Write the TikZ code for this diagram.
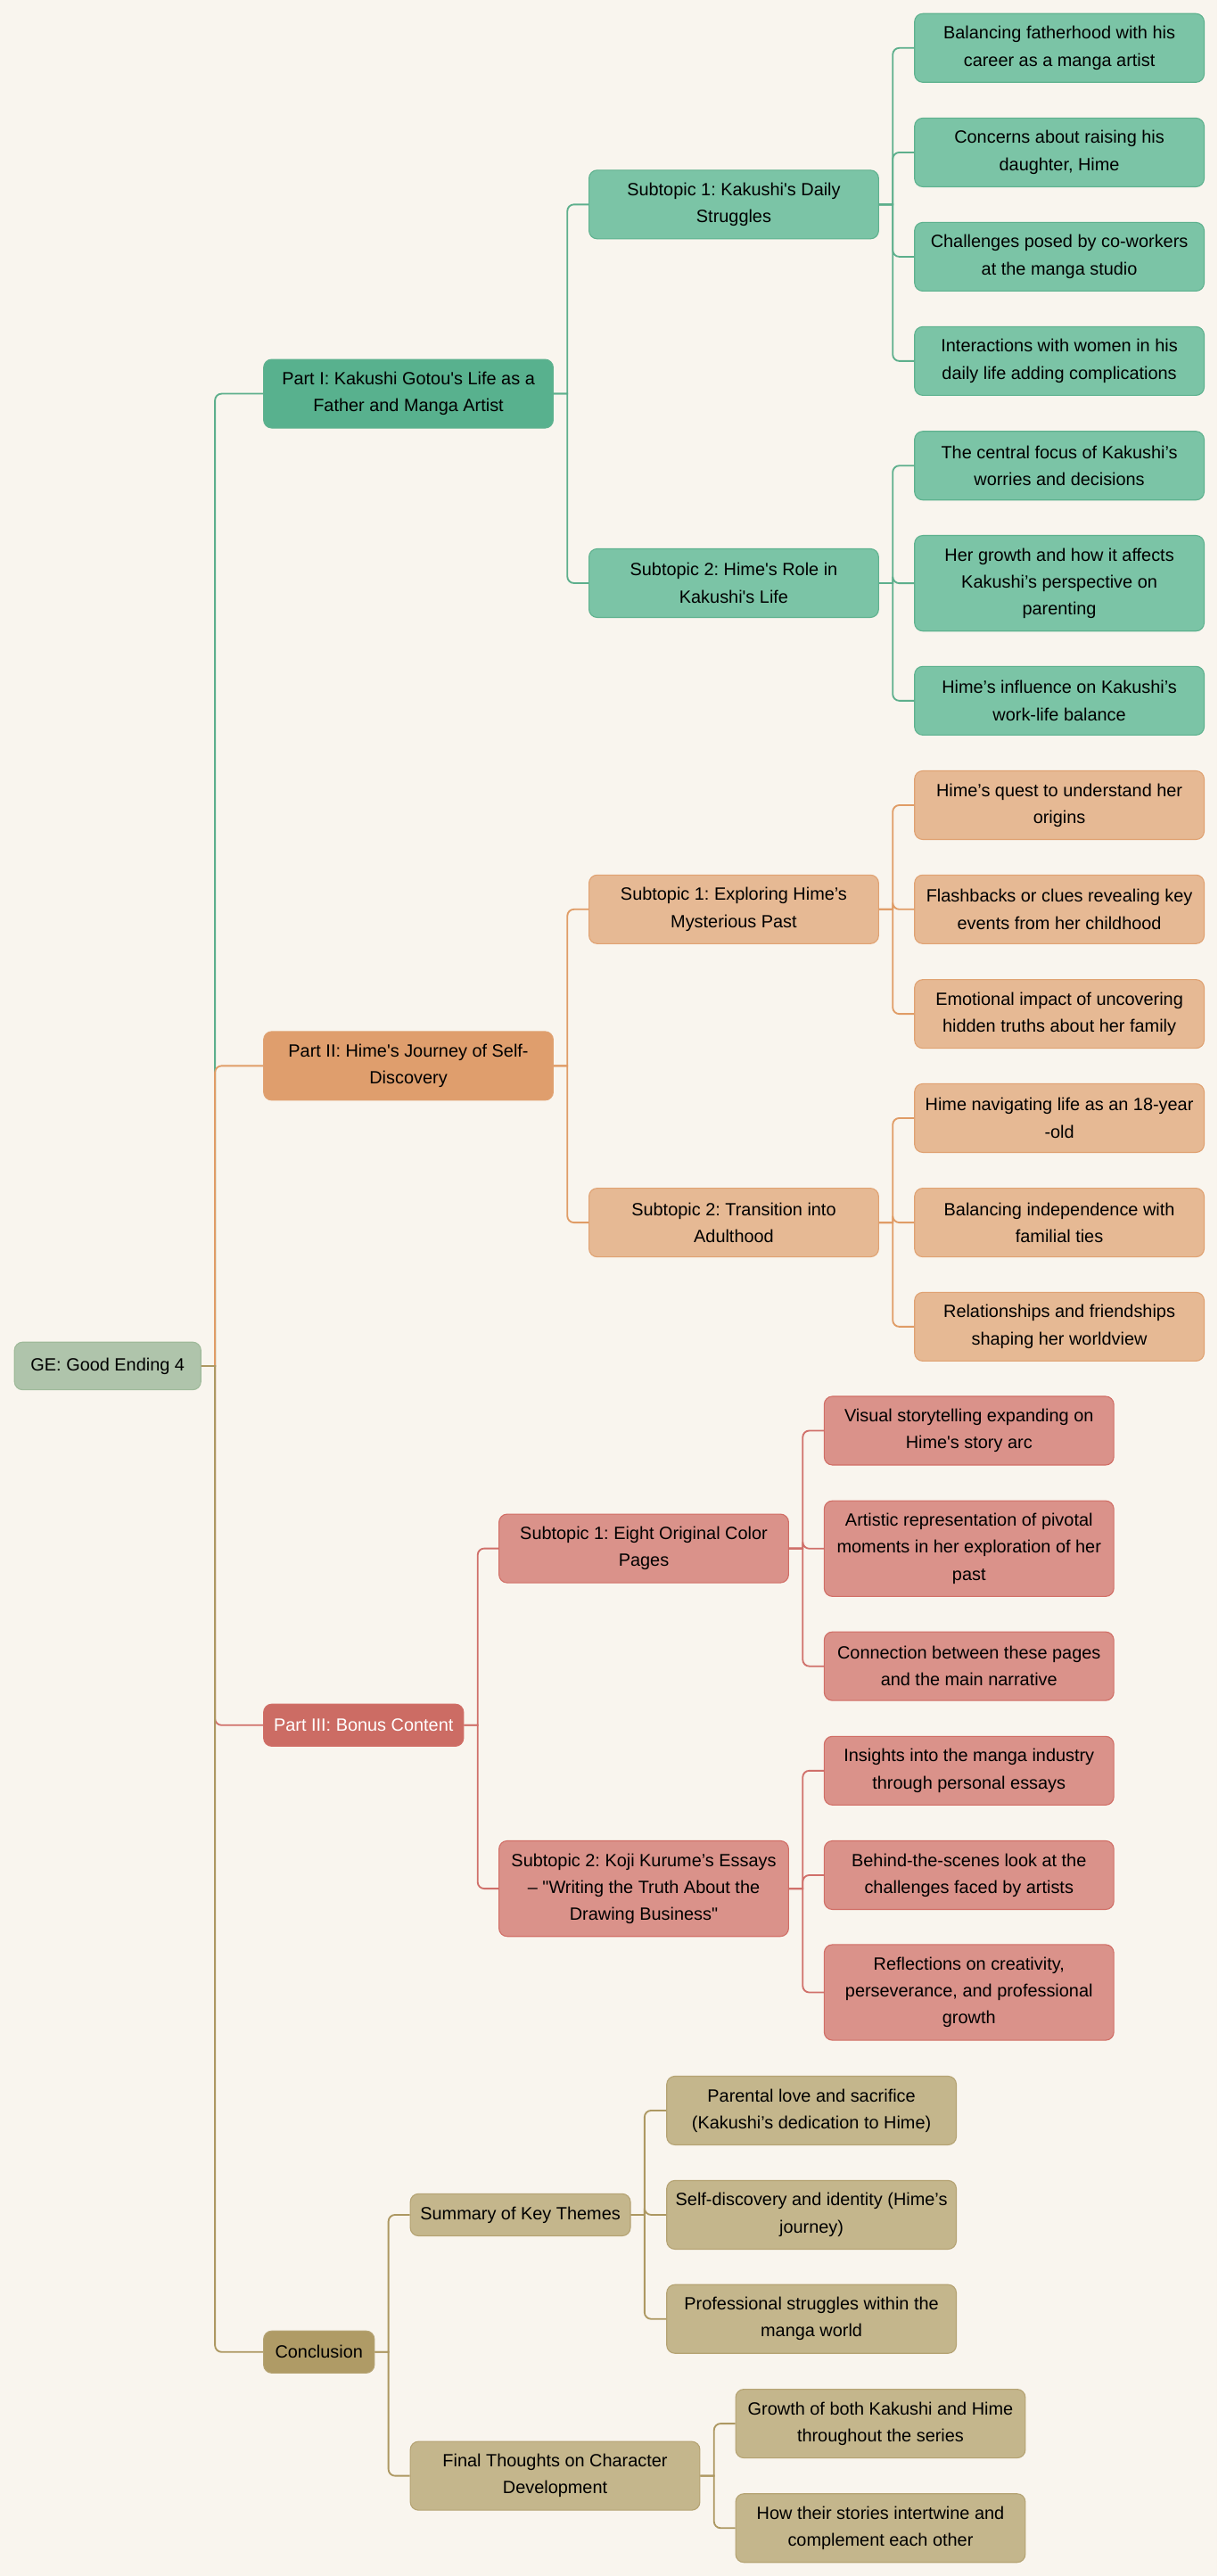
\documentclass[tikz,border=0pt]{standalone}
\usepackage{fontspec}
\setmainfont{Liberation Sans}
\tikzset{>=stealth}
\frenchspacing

\definecolor{paper}{HTML}{F9F5EE}
\definecolor{rootfill}{HTML}{AFC4AB}
\definecolor{rootrim}{HTML}{9FBA9A}
\definecolor{greentop}{HTML}{58B18E}
\definecolor{greenbox}{HTML}{7BC4A6}
\definecolor{greenrim}{HTML}{5FB28F}
\definecolor{greenline}{HTML}{5DAF8C}
\definecolor{orangetop}{HTML}{DF9E6D}
\definecolor{orangebox}{HTML}{E6B994}
\definecolor{orangerim}{HTML}{E0A272}
\definecolor{orangeline}{HTML}{E09C66}
\definecolor{redtop}{HTML}{CC6C64}
\definecolor{redbox}{HTML}{DA928A}
\definecolor{redrim}{HTML}{D16E66}
\definecolor{redline}{HTML}{D0706A}
\definecolor{khakitop}{HTML}{AF9B66}
\definecolor{khakibox}{HTML}{C4B68C}
\definecolor{khakirim}{HTML}{B5A373}
\definecolor{khakiline}{HTML}{AD9862}

\newcommand{\apos}{\textquotesingle}
\newcommand{\dquo}{\textquotedbl}

\tikzset{
  box/.style={draw, rounded corners=5pt, align=center, inner sep=0pt, anchor=west,
    line width=0.6pt, font=\fontsize{10.8}{16.4}\selectfont},
  one/.style={minimum height=25.6pt},
  two/.style={minimum height=41.8pt},
  three/.style={minimum height=58.2pt},
  wide/.style={minimum width=176.3pt},
  rootbox/.style={box, fill=rootfill, draw=rootrim, minimum width=113.5pt, minimum height=29pt},
  greenpart/.style={box, wide, fill=greentop, draw=greenrim},
  greenleaf/.style={box, wide, fill=greenbox, draw=greenrim},
  orangepart/.style={box, wide, fill=orangetop, draw=orangerim},
  orangeleaf/.style={box, wide, fill=orangebox, draw=orangerim},
  redpart/.style={box, fill=redtop, draw=redrim, text=white},
  redleaf/.style={box, wide, fill=redbox, draw=redrim},
  khakipart/.style={box, fill=khakitop, draw=khakirim},
  khakileaf/.style={box, fill=khakibox, draw=khakirim},
  link/.style={line width=1pt}
}

\begin{document}
\begin{tikzpicture}[x=1pt, y=-1pt]
	\fill[paper] (0,0) rectangle (741,1568.3);
	% root and parts
	\node[rootbox] (ge) at (8.5,831.6) {GE: Good Ending 4};
	\node[greenpart, two] (p1) at (160.2,239.7) {Part I: Kakushi Gotou\apos s Life as a\\Father and Manga Artist};
	\node[orangepart, two] (p2) at (160.2,648.9) {Part II: Hime\apos s Journey of Self-\\Discovery};
	\node[redpart, one, minimum width=121.7pt] (p3) at (160.2,1050.3) {Part III: Bonus Content};
	\node[khakipart, one, minimum width=67.4pt] (p4) at (160.2,1431.9) {Conclusion};
	% part I
	\node[greenleaf, two] (s11) at (358.3,124.5) {Subtopic 1: Kakushi\apos s Daily\\Struggles};
	\node[greenleaf, two] (s12) at (358.3,355) {Subtopic 2: Hime\apos s Role in\\Kakushi\apos s Life};
	\node[greenleaf, two] (a1) at (556.5,29.2) {Balancing fatherhood with his\\career as a manga artist};
	\node[greenleaf, two] (a2) at (556.5,92.8) {Concerns about raising his\\daughter, Hime};
	\node[greenleaf, two] (a3) at (556.5,156.3) {Challenges posed by co-workers\\at the manga studio};
	\node[greenleaf, two] (a4) at (556.5,219.8) {Interactions with women in his\\daily life adding complications};
	\node[greenleaf, two] (a5) at (556.5,283.5) {The central focus of Kakushi’s\\worries and decisions};
	\node[greenleaf, three] (a6) at (556.5,355.1) {Her growth and how it affects\\Kakushi’s perspective on\\parenting};
	\node[greenleaf, two] (a7) at (556.5,426.6) {Hime’s influence on Kakushi’s\\work-life balance};
	% part II
	\node[orangeleaf, two] (s21) at (358.3,553.6) {Subtopic 1: Exploring Hime’s\\Mysterious Past};
	\node[orangeleaf, two] (s22) at (358.3,744.3) {Subtopic 2: Transition into\\Adulthood};
	\node[orangeleaf, two] (b1) at (556.5,490.2) {Hime’s quest to understand her\\origins};
	\node[orangeleaf, two] (b2) at (556.5,553.6) {Flashbacks or clues revealing key\\events from her childhood};
	\node[orangeleaf, two] (b3) at (556.5,617.3) {Emotional impact of uncovering\\hidden truths about her family};
	\node[orangeleaf, two] (b4) at (556.5,680.7) {Hime navigating life as an 18-year\\-old};
	\node[orangeleaf, two] (b5) at (556.5,744.3) {Balancing independence with\\familial ties};
	\node[orangeleaf, two] (b6) at (556.5,807.7) {Relationships and friendships\\shaping her worldview};
	% part III
	\node[redleaf, two] (s31) at (303.5,942.7) {Subtopic 1: Eight Original Color\\Pages};
	\node[redleaf, three] (s32) at (303.5,1149.8) {Subtopic 2: Koji Kurume’s Essays\\– \dquo Writing the Truth About the\\Drawing Business\dquo};
	\node[redleaf, two] (c1) at (501.5,871) {Visual storytelling expanding on\\Hime\apos s story arc};
	\node[redleaf, three] (c2) at (501.5,942.8) {Artistic representation of pivotal\\moments in her exploration of her\\past};
	\node[redleaf, two] (c3) at (501.5,1014.4) {Connection between these pages\\and the main narrative};
	\node[redleaf, two] (c4) at (501.5,1078) {Insights into the manga industry\\through personal essays};
	\node[redleaf, two] (c5) at (501.5,1141.6) {Behind-the-scenes look at the\\challenges faced by artists};
	\node[redleaf, three] (c6) at (501.5,1213) {Reflections on creativity,\\perseverance, and professional\\growth};
	% conclusion
	\node[khakileaf, one, minimum width=134pt] (s41) at (249.5,1348.4) {Summary of Key Themes};
	\node[khakileaf, two, wide] (s42) at (249.5,1507.3) {Final Thoughts on Character\\Development};
	\node[khakileaf, two, wide] (d1) at (405.6,1284.9) {Parental love and sacrifice\\(Kakushi’s dedication to Hime)};
	\node[khakileaf, two, wide] (d2) at (405.6,1348.4) {Self-discovery and identity (Hime’s\\journey)};
	\node[khakileaf, two, wide] (d3) at (405.6,1411.8) {Professional struggles within the\\manga world};
	\node[khakileaf, two, wide] (d4) at (447.6,1475.5) {Growth of both Kakushi and Hime\\throughout the series};
	\node[khakileaf, two, wide] (d5) at (447.6,1539.1) {How their stories intertwine and\\complement each other};
	% connectors
	\draw[link, greenline] (ge.east) -- ++(8.3,0) [rounded corners=4pt] |- (p1.west);
	\draw[link, orangeline] (ge.east) -- ++(8.3,0) [rounded corners=4pt] |- (p2.west);
	\draw[link, redline] (ge.east) -- ++(8.3,0) [rounded corners=4pt] |- (p3.west);
	\draw[link, khakiline] (ge.east) -- ++(8.3,0) [rounded corners=4pt] |- (p4.west);
	\foreach \c in {s11,s12}
	\draw[link, greenline] (p1.east) -- ++(8.3,0) [rounded corners=4pt] |- (\c.west);
	\foreach \c in {a1,a2,a3,a4}
	\draw[link, greenline] (s11.east) -- ++(8.3,0) [rounded corners=4pt] |- (\c.west);
	\foreach \c in {a5,a6,a7}
	\draw[link, greenline] (s12.east) -- ++(8.3,0) [rounded corners=4pt] |- (\c.west);
	\foreach \c in {s21,s22}
	\draw[link, orangeline] (p2.east) -- ++(8.3,0) [rounded corners=4pt] |- (\c.west);
	\foreach \c in {b1,b2,b3}
	\draw[link, orangeline] (s21.east) -- ++(8.3,0) [rounded corners=4pt] |- (\c.west);
	\foreach \c in {b4,b5,b6}
	\draw[link, orangeline] (s22.east) -- ++(8.3,0) [rounded corners=4pt] |- (\c.west);
	\foreach \c in {s31,s32}
	\draw[link, redline] (p3.east) -- ++(8.3,0) [rounded corners=4pt] |- (\c.west);
	\foreach \c in {c1,c2,c3}
	\draw[link, redline] (s31.east) -- ++(8.3,0) [rounded corners=4pt] |- (\c.west);
	\foreach \c in {c4,c5,c6}
	\draw[link, redline] (s32.east) -- ++(8.3,0) [rounded corners=4pt] |- (\c.west);
	\foreach \c in {s41,s42}
	\draw[link, khakiline] (p4.east) -- ++(8.3,0) [rounded corners=4pt] |- (\c.west);
	\foreach \c in {d1,d2,d3}
	\draw[link, khakiline] (s41.east) -- ++(8.3,0) [rounded corners=4pt] |- (\c.west);
	\foreach \c in {d4,d5}
	\draw[link, khakiline] (s42.east) -- ++(8.3,0) [rounded corners=4pt] |- (\c.west);
\end{tikzpicture}
\end{document}
